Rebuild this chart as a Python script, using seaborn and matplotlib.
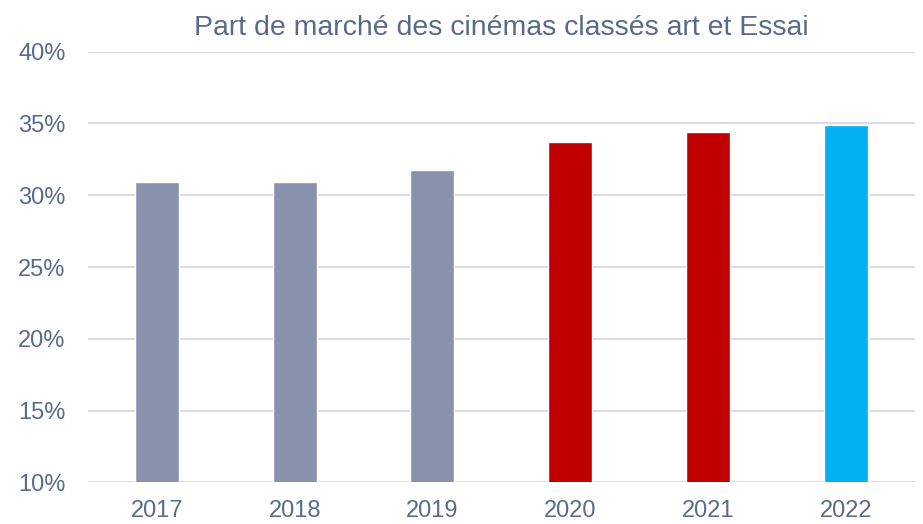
import pandas as pd
import matplotlib.pyplot as plt
import seaborn as sns
from matplotlib.ticker import FuncFormatter

# Données
annees = ['2017', '2018', '2019', '2020', '2021', '2022']
part_marche = [30.9, 30.9, 31.75, 33.7, 34.4, 34.9]
couleurs = ['#8892ad', '#8892ad', '#8892ad', '#c00000', '#c00000', '#00b0f0']

df = pd.DataFrame({'Annee': annees, 'Part': part_marche})

sns.set_style('white')
plt.rcParams['font.family'] = ['Liberation Sans', 'DejaVu Sans']
texte = '#5b6a8b'

fig, ax = plt.subplots(figsize=(9.23, 5.24), dpi=100)
fig.subplots_adjust(left=0.0953, right=0.991, top=0.9013, bottom=0.0796)

sns.barplot(data=df, x='Annee', y='Part', hue='Annee', palette=couleurs,
            saturation=1, legend=False, width=0.32, ax=ax, zorder=3)

ax.set_ylim(10, 40)
ax.set_yticks(range(10, 41, 5))
ax.yaxis.set_major_formatter(FuncFormatter(lambda v, p: f'{int(v)}%'))
ax.grid(axis='y', color='#d9dbe5', linewidth=1.5, zorder=0)
ax.set_axisbelow(True)
sns.despine(ax=ax, left=True, bottom=True, top=True, right=True)
ax.tick_params(axis='both', length=0, labelsize=17, labelcolor=texte)
ax.tick_params(axis='y', pad=16)
ax.tick_params(axis='x', pad=13)
ax.set_xlabel('')
ax.set_ylabel('')
ax.set_title('Part de marché des cinémas classés art et Essai', color=texte,
             fontsize=20.5, pad=12)

plt.savefig('out.png', dpi=100)
